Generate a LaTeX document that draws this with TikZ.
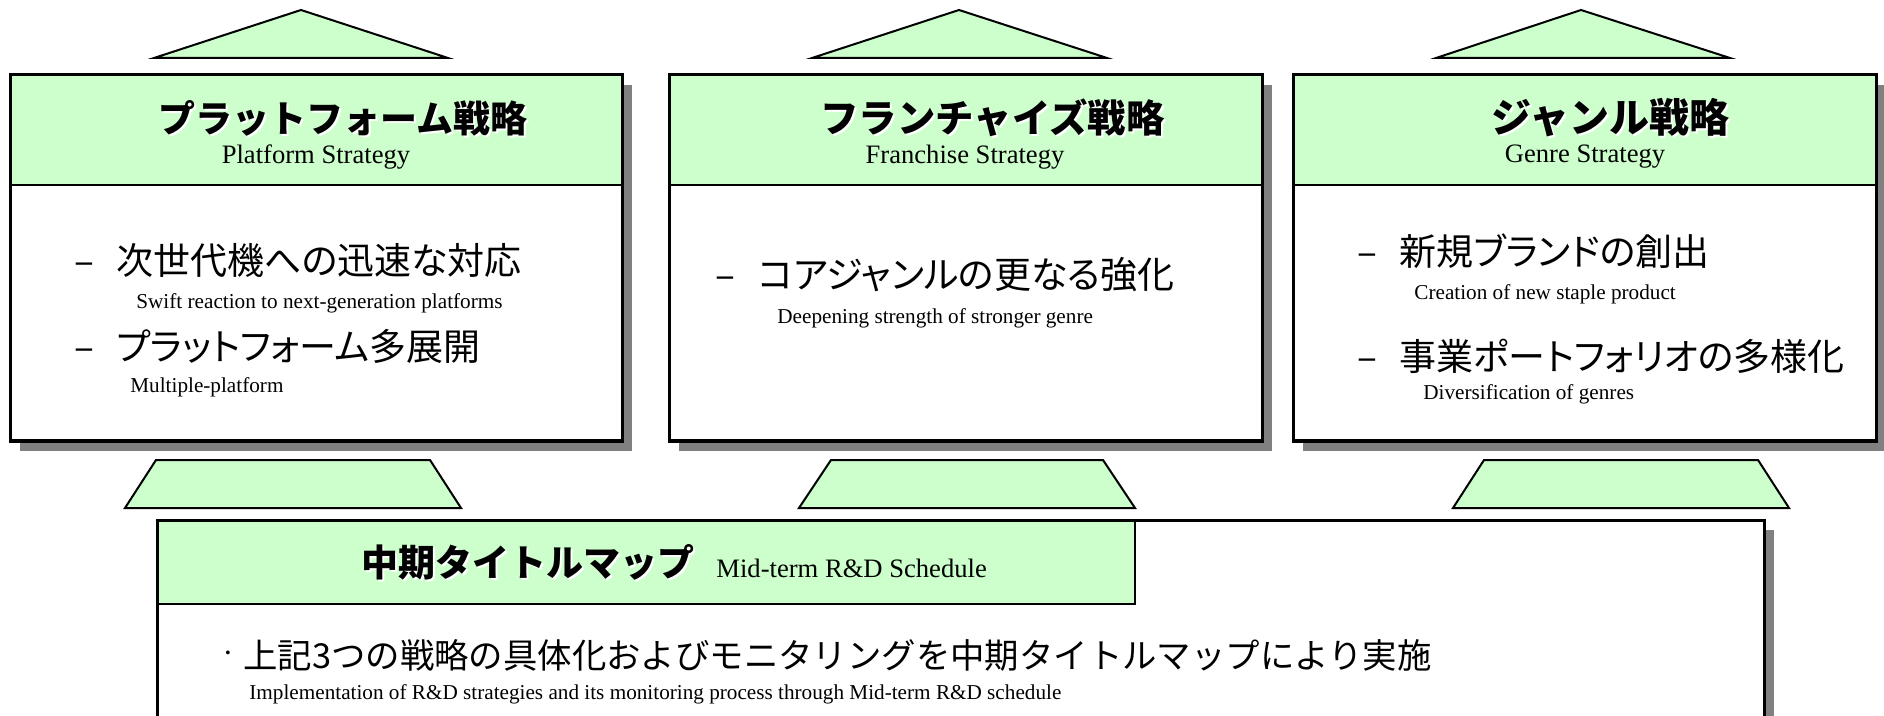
\documentclass[tikz,border=0pt]{standalone}
\usepackage{fontspec}
\setmainfont{Liberation Serif}
\newfontfamily\jp{Noto Sans CJK JP}
\newfontfamily\jpp{Noto Sans CJK JP}[RawFeature=+palt]
\definecolor{boxgreen}{HTML}{CCFFCC}
\definecolor{shadowgray}{HTML}{808080}
\begin{document}
\begin{tikzpicture}[x=0.5pt,y=-0.5pt,
  panel/.style={draw=black,line width=1.5pt,fill=white},
  hdr/.style={draw=black,line width=1pt,fill=boxgreen},
  shade/.style={fill=shadowgray,draw=none},
  pointer/.style={draw=black,line width=1pt,fill=boxgreen,line join=miter},
  jtitle/.style={font=\jp\bfseries\fontsize{18.5}{20}\selectfont,inner sep=0pt,anchor=west},
  jshadow/.style={text=white},
  esub/.style={font=\fontsize{13.3}{15}\selectfont,inner sep=0pt},
  jbody/.style={font=\jpp\fontsize{18.5}{20}\selectfont,inner sep=0pt,anchor=west},
  dashmark/.style={font=\jp\fontsize{18.5}{20}\selectfont,inner sep=0pt,anchor=base east},
  ebody/.style={font=\fontsize{10.6}{12}\selectfont,inner sep=0pt,anchor=west}]
\useasboundingbox (0,0) rectangle (1884,716);
\clip (0,0) rectangle (1884,716);
% top pointers
\draw[pointer] (154,58) -- (301,10) -- (448,58) -- cycle;
\draw[pointer] (812,58) -- (959,10) -- (1107,58) -- cycle;
\draw[pointer] (1436,58) -- (1581,10) -- (1730,58) -- cycle;
% panels
\foreach \xa/\xb in {10/622,669/1262,1293/1876}{
  \fill[shade] (\xa+10,85) rectangle (\xb+10,451);
  \draw[panel] (\xa,75) rectangle (\xb,441);
  \draw[hdr] (\xa,75) rectangle (\xb,185);
  \draw[line width=1.5pt] (\xa,75) rectangle (\xb,441);
}
% lower pointers
\draw[pointer] (156,460) -- (430,460) -- (461,508) -- (125,508) -- cycle;
\draw[pointer] (831,460) -- (1103,460) -- (1135,508) -- (799,508) -- cycle;
\draw[pointer] (1484,460) -- (1758,460) -- (1789,508) -- (1453,508) -- cycle;
% bottom panel
\fill[shade] (167,530) rectangle (1774,760);
\draw[panel] (157,520) rectangle (1764,760);
\draw[hdr] (157,520) rectangle (1135,604);
\draw[line width=1.5pt] (157,520) rectangle (1764,760);

% titles
\node[jtitle,jshadow] at (160,120) {プラットフォーム戦略};
\node[jtitle] (tL) at (158,118) {プラットフォーム戦略};
\node[esub] (sL) at (316,157) {Platform Strategy};
\node[jtitle,font=\jp\bfseries\fontsize{19.2}{20}\selectfont,jshadow] at (822,120) {フランチャイズ戦略};
\node[jtitle,font=\jp\bfseries\fontsize{19.2}{20}\selectfont] (tM) at (820,118) {フランチャイズ戦略};
\node[esub] (sM) at (965,157) {Franchise Strategy};
\node[jtitle,font=\jp\bfseries\fontsize{20}{20}\selectfont,jshadow] at (1493,120) {ジャンル戦略};
\node[jtitle,font=\jp\bfseries\fontsize{20}{20}\selectfont] (tR) at (1491,118) {ジャンル戦略};
\node[esub] (sR) at (1585,157) {Genre Strategy};

% left body
\node[jbody] (jL1) at (116,260) {次世代機への迅速な対応};
\node[dashmark] (dL1) at ([xshift=-10.5pt]jL1.base west) {–};
\node[ebody] (eL1) at (136,303) {Swift reaction to next-generation platforms};
\node[jbody] (jL2) at (116,346) {プラットフォーム多展開};
\node[dashmark] (dL2) at ([xshift=-10.5pt]jL2.base west) {–};
\node[ebody] (eL2) at (130,387) {Multiple-platform};

% middle body
\node[jbody] (jM1) at (758,275) {コアジャンルの更なる強化};
\node[dashmark] (dM1) at ([xshift=-11pt]jM1.base west) {–};
\node[ebody] (eM1) at (777,318) {Deepening strength of stronger genre};

% right body
\node[jbody] (jR1) at (1399,251) {新規ブランドの創出};
\node[dashmark] (dR1) at ([xshift=-10.5pt]jR1.base west) {–};
\node[ebody] (eR1) at (1414,294) {Creation of new staple product};
\node[jbody] (jR2) at (1399,356) {事業ポートフォリオの多様化};
\node[dashmark] (dR2) at ([xshift=-10.5pt]jR2.base west) {–};
\node[ebody] (eR2) at (1423,394) {Diversification of genres};

% bottom
\node[jtitle,jshadow] at (363,564) {中期タイトルマップ};
\node[jtitle] (tB) at (361,562) {中期タイトルマップ};
\node[esub,anchor=west] (sB) at (716,568) {Mid-term R\&D Schedule};
\node[jbody,font=\jp\fontsize{17.2}{19}\selectfont] (jB) at (243,655) {上記3つの戦略の具体化およびモニタリングを中期タイトルマップにより実施};
\node[font=\fontsize{16}{18}\selectfont,inner sep=0pt] (bB) at (228,657) {·};
\node[ebody] (eB) at (249,694) {Implementation of R\&D strategies and its monitoring process through Mid-term R\&D schedule};
\end{tikzpicture}
\end{document}
